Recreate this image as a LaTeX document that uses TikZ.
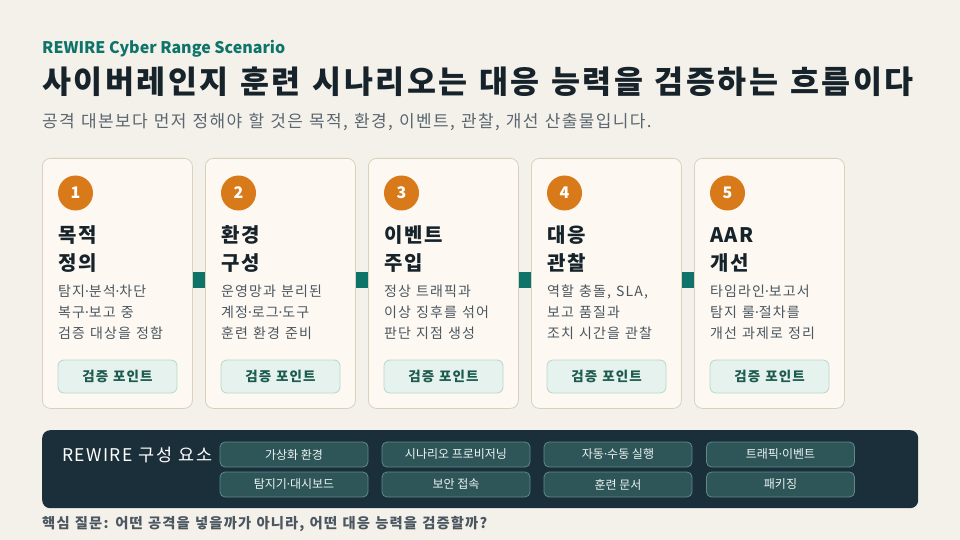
\documentclass[tikz,border=0pt]{standalone}
\usepackage{fontspec}
\setmainfont{Noto Sans CJK KR}
\newfontfamily\spaced{Noto Sans CJK KR}[LetterSpace=8,WordSpace=1.2]
\newfontfamily\dotfont{Noto Sans}
\newcommand\mdot{{\dotfont ·}}
\definecolor{bgc}{HTML}{F4F1EB}
\definecolor{cardfill}{HTML}{FDF9F2}
\definecolor{cardline}{HTML}{D9D0BD}
\definecolor{orangec}{HTML}{D97A1A}
\definecolor{tealc}{HTML}{0E7469}
\definecolor{titlec}{HTML}{17232A}
\definecolor{subc}{HTML}{5B6670}
\definecolor{bodyc}{HTML}{4B5660}
\definecolor{badgefill}{HTML}{E6F2EE}
\definecolor{badgeline}{HTML}{B7D6CC}
\definecolor{badgetext}{HTML}{1E5B4F}
\definecolor{panelc}{HTML}{1B2F3A}
\definecolor{chipfill}{HTML}{2E5659}
\definecolor{chipline}{HTML}{5E8A88}
\definecolor{chiptext}{HTML}{EEF3F1}
\tikzset{
  txt/.style={anchor=west, inner sep=0pt, text height=0.8em, text depth=0.2em},
  card/.style={draw=cardline, fill=cardfill, rounded corners=8pt, line width=0.8pt,
    minimum width=150pt, minimum height=250pt, anchor=north west, inner sep=0pt},
  num/.style={circle, fill=orangec, minimum size=35pt, inner sep=0pt, text=white,
    font=\bfseries\fontsize{16}{18}\selectfont},
  ctitle/.style={txt, text=titlec, font=\spaced\bfseries\fontsize{20}{24}\selectfont},
  cbody/.style={txt, text=bodyc, font=\spaced\fontsize{14}{17}\selectfont},
  badge/.style={draw=badgeline, fill=badgefill, rounded corners=6pt, line width=0.8pt,
    minimum width=119pt, minimum height=33pt, inner sep=0pt, text=badgetext,
    font=\spaced\bfseries\fontsize{13.5}{16}\selectfont},
  link/.style={draw=tealc, line width=16pt},
  chip/.style={draw=chipline, fill=chipfill, rounded corners=5pt, line width=0.8pt,
    minimum width=148pt, minimum height=25pt, inner sep=0pt, text=chiptext,
    font=\fontsize{12}{14}\selectfont},
}
\begin{document}
\begin{tikzpicture}[x=1pt,y=-1pt]
\useasboundingbox (0,0) rectangle (960,540);
\fill[bgc] (0,0) rectangle (960,540);

\node[txt, text=tealc, font=\bfseries\fontsize{16}{20}\selectfont] (kicker) at (42,51) {REWIRE Cyber Range Scenario};
\node[txt, text=titlec, font=\spaced\bfseries\fontsize{31.5}{36}\selectfont] (title) at (42,91) {사이버레인지 훈련 시나리오는 대응 능력을 검증하는 흐름이다};
\node[txt, text=subc, font=\spaced\fontsize{17}{20}\selectfont] (subtitle) at (42,125) {공격 대본보다 먼저 정해야 할 것은 목적, 환경, 이벤트, 관찰, 개선 산출물입니다.};

\foreach \i/\x/\ta/\tb/\ba/\bb/\bc in {
  1/42/목적/정의/탐지\mdot 분석\mdot 차단/복구\mdot 보고 중/검증 대상을 정함,
  2/205/환경/구성/운영망과 분리된/계정\mdot 로그\mdot 도구/훈련 환경 준비,
  3/368/이벤트/주입/정상 트래픽과/이상 징후를 섞어/판단 지점 생성,
  4/531/대응/관찰/{역할 충돌, SLA,}/보고 품질과/조치 시간을 관찰,
  5/694/AAR/개선/타임라인\mdot 보고서/탐지 룰\mdot 절차를/개선 과제로 정리}{
  \node[card] (card\i) at (\x,158) {};
  \node[num] (num\i) at (\x+33.5,193) {\i};
  \node[ctitle] (ta\i) at (\x+16,239) {\ta};
  \node[ctitle] (tb\i) at (\x+16,267) {\tb};
  \node[cbody] (ba\i) at (\x+16,293) {\ba};
  \node[cbody] (bb\i) at (\x+16,314) {\bb};
  \node[cbody] (bc\i) at (\x+16,335) {\bc};
  \node[badge] (badge\i) at (\x+75.5,376.5) {검증 포인트};
}
\foreach \a/\b in {1/2,2/3,3/4,4/5}{
  \draw[link] ([yshift=3pt]card\a.east) -- ([yshift=3pt]card\b.west);
}

\node[fill=panelc, rounded corners=8pt, minimum width=876pt, minimum height=78pt,
  anchor=north west, inner sep=0pt] (panel) at (42,430) {};
\node[txt, text=white, font=\spaced\fontsize{17.5}{20}\selectfont] (paneltitle) at (62,458) {REWIRE 구성 요소};
\foreach \n/\cx/\cy/\t in {
  1/294/454.5/가상화 환경, 2/456/454.5/시나리오 프로비저닝, 3/618/454.5/자동\mdot 수동 실행, 4/780.5/454.5/트래픽\mdot 이벤트,
  5/294/484.5/탐지기\mdot 대시보드, 6/456/484.5/보안 접속, 7/618/484.5/훈련 문서, 8/780.5/484.5/패키징}{
  \node[chip] (chip\n) at (\cx,\cy) {\t};
}

\node[txt, text=bodyc, font=\spaced\bfseries\fontsize{14.3}{17}\selectfont] (footer) at (42,525) {핵심 질문: 어떤 공격을 넣을까가 아니라, 어떤 대응 능력을 검증할까?};
\end{tikzpicture}
\end{document}
